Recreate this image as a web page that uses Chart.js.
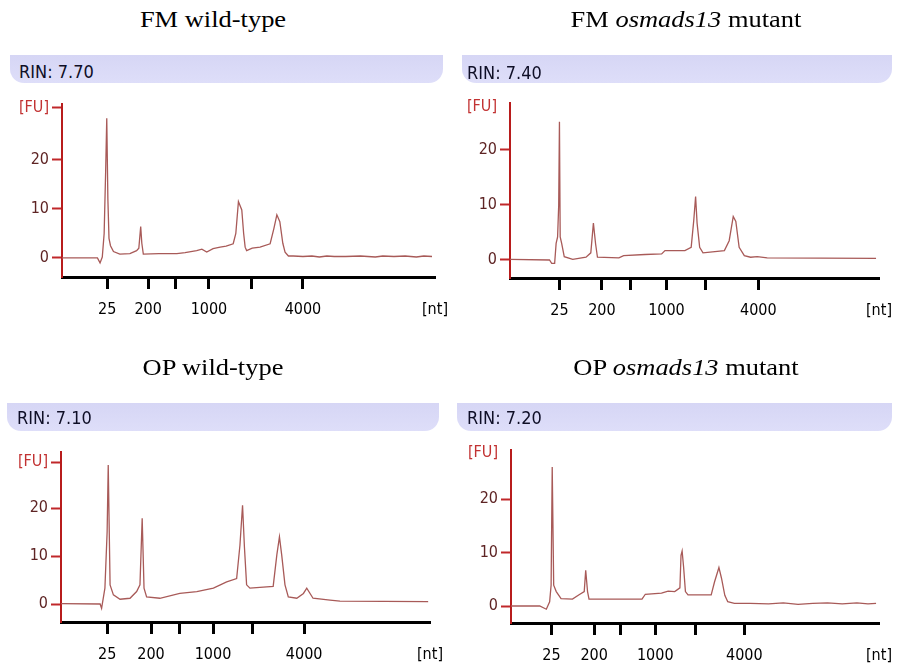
<!DOCTYPE html>
<html>
<head>
<meta charset="utf-8">
<script src="https://cdn.jsdelivr.net/npm/chart.js@4"></script>
<style>
  body { margin: 0; background: #fff; }
  #page { position: relative; width: 903px; height: 666px; overflow: hidden; background: #fff; }
  canvas { position: absolute; left: 0; top: 0; }
  .title {
    position: absolute; width: 400px; text-align: center;
    font-family: "Liberation Serif", "Times New Roman", serif; font-size: 23px; line-height: 26px; color: #000;
    transform: scaleX(1.15);
  }
  .title i { font-style: italic; }
  .banner {
    position: absolute; height: 28px; border-radius: 0 0 14px 14px;
    background: linear-gradient(#d6d6f5, #dedef9);
  }
  .rin {
    position: absolute; font-family: "DejaVu Sans Condensed", "DejaVu Sans", sans-serif;
    font-size: 18px; line-height: 20px; color: #0e0e26;
  }
</style>
</head>
<body>
<div id="page"></div>
<script>
// ---- data (x = migration time, arbitrary units 0-100 across the plot; y = fluorescence [FU]) ----
const fmWtTime = [0, 9.5, 10.2, 10.8, 11.3, 11.7, 12.0, 12.3, 12.6, 13.0, 13.8, 15.5, 18.2, 20.0, 20.6, 21.1, 21.4, 21.8, 26.0, 30.8, 33.0, 36.1, 37.5, 38.8, 40.5, 42.4, 44.0, 45.9, 46.6, 47.3, 48.2, 48.7, 49.1, 49.5, 51.0, 53.1, 55.8, 56.8, 57.6, 58.4, 59.2, 59.8, 60.7, 62.0, 64.6, 67.0, 69.0, 71.0, 73.0, 76.0, 80.0, 84.0, 86.0, 89.0, 92.0, 95.0, 97.0, 99.2];
const fmWtFU   = [0, 0, -1.0, 0.2, 5.0, 17.6, 28.5, 12.0, 4.0, 2.5, 1.3, 0.8, 0.9, 1.5, 2.0, 6.4, 3.0, 0.8, 0.9, 0.9, 1.1, 1.5, 1.8, 1.2, 1.9, 2.2, 2.4, 2.9, 5.0, 11.5, 9.8, 5.0, 2.2, 1.5, 2.0, 2.2, 2.9, 6.0, 8.8, 7.4, 3.0, 1.2, 0.4, 0.4, 0.3, 0.4, 0.2, 0.4, 0.3, 0.3, 0.4, 0.2, 0.4, 0.3, 0.4, 0.2, 0.4, 0.3];

const fmMutTime = [0, 10.7, 11.3, 12.1, 12.5, 12.9, 13.2, 13.4, 13.6, 14.0, 14.7, 17.0, 20.6, 21.9, 22.6, 23.2, 23.7, 29.5, 30.8, 36.6, 41.1, 42.0, 47.4, 49.1, 49.8, 50.3, 50.7, 51.4, 52.3, 58.1, 59.4, 60.5, 61.2, 62.1, 63.5, 65.2, 67.0, 69.7, 99.2];
const fmMutFU   = [0.1, 0, -0.6, -0.6, 3.0, 4.2, 10.0, 25.1, 4.2, 3.0, 0.6, 0.1, 0.5, 1.3, 6.7, 2.9, 0.5, 0.4, 0.8, 1.0, 1.1, 1.7, 1.7, 2.3, 7.2, 11.5, 6.7, 2.3, 1.3, 1.7, 3.5, 7.9, 7.0, 2.3, 0.8, 0.5, 0.6, 0.4, 0.3];

const opWtTime = [0, 10.6, 11.0, 11.9, 12.5, 12.8, 13.3, 14.2, 16.0, 18.7, 20.5, 21.4, 22.0, 22.5, 23.2, 26.8, 32.2, 36.8, 41.3, 44.9, 47.6, 48.5, 49.2, 49.7, 50.3, 51.2, 57.5, 58.5, 59.2, 59.8, 60.7, 61.6, 63.9, 65.7, 66.6, 68.3, 72.9, 75.6, 99.5];
const opWtFU   = [0.1, 0, -0.9, 3.3, 15.0, 29.0, 4.0, 1.9, 1.0, 1.2, 2.6, 4.0, 17.9, 3.3, 1.5, 1.2, 2.2, 2.6, 3.3, 4.6, 5.3, 12.3, 20.6, 12.0, 4.0, 3.3, 3.7, 10.3, 14.0, 10.3, 4.0, 1.5, 1.2, 2.2, 3.3, 1.2, 0.8, 0.6, 0.5];

const opMutTime = [0, 7.8, 9.6, 10.5, 10.9, 11.2, 11.6, 12.3, 13.6, 16.7, 18.5, 19.9, 20.3, 20.8, 21.2, 27.5, 35.6, 36.5, 40.9, 42.7, 44.5, 45.9, 46.2, 46.5, 46.9, 47.4, 48.1, 54.4, 55.3, 56.5, 57.2, 58.1, 58.9, 60.7, 65.0, 70.0, 74.0, 78.0, 82.0, 86.0, 90.0, 94.0, 97.0, 99.2];
const opMutFU   = [0, 0, -0.6, 0.8, 3.9, 26.0, 3.9, 2.7, 1.4, 1.3, 2.1, 2.7, 6.7, 2.7, 1.3, 1.3, 1.3, 2.2, 2.4, 2.8, 2.7, 3.4, 9.5, 10.3, 7.3, 2.7, 2.1, 2.1, 4.5, 7.2, 5.2, 2.0, 0.8, 0.5, 0.5, 0.4, 0.6, 0.3, 0.5, 0.6, 0.4, 0.6, 0.4, 0.5];

// x tick positions (same time units) and their size labels
const fmWtTicks  = [12.1, 23.1, 30.3, 39.4, 50.7, 64.6, 100];
const fmMutTicks = [13.4, 24.9, 32.7, 42.4, 53.1, 67.3, 100];
const opWtTicks  = [12.5, 24.4, 32.0, 41.2, 52.0, 65.9, 100];
const opMutTicks = [11.0, 22.6, 29.8, 39.2, 50.0, 63.4, 100];
const xTickLabels = ["25", "200", "", "1000", "", "4000", "[nt]"];
const yTickVals = [0, 10, 20];
const yTickLabels = ["0", "10", "20", "[FU]"];
const rinValues = ["7.70", "7.40", "7.10", "7.20"];

// ---- layout ----
const W = 903, H = 666, YW = 56, XH = 44;
const panels = [
  { title: 'FM wild-type', rin: rinValues[0], xs: fmWtTime, ys: fmWtFU, ticks: fmWtTicks,
    fuAt: 30.6, fuTick: true, yMin: -3.88, yMax: 31.4,
    area: { l: 62, r: 435, t: 104, b: 277 }, banner: { x: 10, y: 55, w: 433 }, cx: 213, ty: 20, rx: 19, ry: 72 },
  { title: 'FM <i>osmads13</i> mutant', rin: rinValues[1], xs: fmMutTime, ys: fmMutFU, ticks: fmMutTicks,
    fuAt: 27.8, fuTick: false, yMin: -3.27, yMax: 28.5,
    area: { l: 510, r: 883, t: 103, b: 278 }, banner: { x: 462, y: 55, w: 430 }, cx: 686, ty: 20, rx: 467, ry: 73 },
  { title: 'OP wild-type', rin: rinValues[2], xs: opWtTime, ys: opWtFU, ticks: opWtTicks,
    fuAt: 29.6, fuTick: true, yMin: -3.75, yMax: 31.7,
    area: { l: 61, r: 430, t: 452, b: 622 }, banner: { x: 7, y: 403, w: 432 }, cx: 213, ty: 368, rx: 17, ry: 418 },
  { title: 'OP <i>osmads13</i> mutant', rin: rinValues[3], xs: opMutTime, ys: opMutFU, ticks: opMutTicks,
    fuAt: 28.6, fuTick: false, yMin: -3.18, yMax: 29.2,
    area: { l: 511, r: 883, t: 450, b: 623 }, banner: { x: 457, y: 403, w: 435 }, cx: 686, ty: 368, rx: 467, ry: 418 }
];

const page = document.getElementById("page");
const tickFont = { family: "'DejaVu Sans Condensed', 'DejaVu Sans', sans-serif", size: 16 };

panels.forEach(p => {
  const t = document.createElement("div");
  t.className = "title";
  t.innerHTML = p.title;
  t.style.left = (p.cx - 200) + "px";
  t.style.top = (p.ty - 13) + "px";
  page.appendChild(t);

  const b = document.createElement("div");
  b.className = "banner";
  b.style.left = p.banner.x + "px";
  b.style.top = p.banner.y + "px";
  b.style.width = p.banner.w + "px";
  page.appendChild(b);

  const r = document.createElement("div");
  r.className = "rin";
  r.textContent = "RIN: " + p.rin;
  r.style.left = p.rx + "px";
  r.style.top = (p.ry - 10) + "px";
  page.appendChild(r);

  const cv = document.createElement("canvas");
  cv.width = W; cv.height = H;
  page.appendChild(cv);

  const yTicks = yTickVals.concat([p.fuAt]);

  new Chart(cv, {
    type: "line",
    data: {
      datasets: [{
        data: p.xs.map((x, i) => ({ x: x, y: p.ys[i] })),
        borderColor: "#a85a58",
        borderWidth: 1.3,
        pointRadius: 0,
        tension: 0,
        fill: false
      }]
    },
    options: {
      responsive: false,
      animation: false,
      devicePixelRatio: 1,
      events: [],
      layout: {
        padding: { left: p.area.l - YW, right: W - p.area.r, top: p.area.t, bottom: H - p.area.b - XH }
      },
      plugins: { legend: { display: false }, tooltip: { enabled: false } },
      scales: {
        x: {
          type: "linear", min: 0, max: 100,
          afterBuildTicks: s => { s.ticks = p.ticks.map(v => ({ value: v })); },
          afterFit: s => { s.height = XH; },
          border: { color: "#000", width: 3 },
          grid: {
            drawOnChartArea: false, tickLength: 12, tickWidth: 3,
            tickColor: c => c.index === p.ticks.length - 1 ? "rgba(0,0,0,0)" : "#000"
          },
          ticks: {
            autoSkip: false, maxRotation: 0, padding: 11, color: "#000", font: tickFont,
            callback: (v, i) => xTickLabels[i]
          }
        },
        y: {
          type: "linear", min: p.yMin, max: p.yMax,
          afterBuildTicks: s => { s.ticks = yTicks.map(v => ({ value: v })); },
          afterFit: s => { s.width = YW; },
          border: { color: "#b81c1c", width: 2 },
          grid: {
            drawOnChartArea: false, tickLength: 10, tickWidth: 2,
            tickColor: c => (c.index === 3 && !p.fuTick) ? "rgba(0,0,0,0)" : "#c0282a"
          },
          ticks: {
            padding: 3, font: tickFont,
            color: c => c.index === 3 ? "#c23232" : "#5e2424",
            callback: (v, i) => yTickLabels[i]
          }
        }
      }
    }
  });
});
</script>
</body>
</html>
